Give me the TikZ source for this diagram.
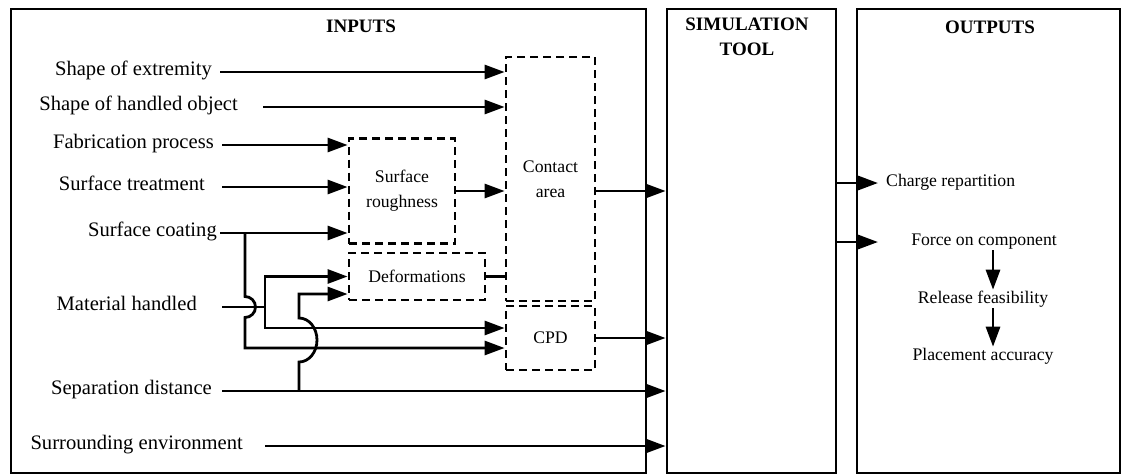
\documentclass[tikz,border=0pt]{standalone}
\usepackage{fontspec}
\setmainfont{Liberation Serif}
\usetikzlibrary{arrows.meta}

\begin{document}
\begin{tikzpicture}[x=1pt, y=-1pt,
		wire/.style={line width=2.8pt},
		feed/.style={wire, -{Triangle[length=20pt,width=14pt]}},
		frame/.style={draw, line width=2.8pt, minimum height=464pt, inner sep=0pt},
		dbox/.style={draw, line width=2.8pt, dash pattern=on 8pt off 5pt, align=center, inner sep=0pt, font=\fontsize{17.7}{25}\selectfont},
		inlabel/.style={anchor=east, inner sep=0pt, font=\fontsize{20.6}{25}\selectfont, text height=0.9em, text depth=0.12em},
		outlabel/.style={inner sep=0pt, font=\fontsize{17.7}{25}\selectfont, text height=0.9em, text depth=0.12em},
		title/.style={align=center, font=\fontsize{19}{25}\selectfont\bfseries}]
		\useasboundingbox (0,0) rectangle (1123,475);

		\node[frame, minimum width=635pt] (inputs) at (328.5,241) {};
		\node[frame, minimum width=169pt] (sim) at (751.5,241) {};
		\node[frame, minimum width=263pt] (outputs) at (988.5,241) {};
		\node[title] (intitle) at (361,26) {INPUTS};
		\node[title] (simtitle) at (747,37) {SIMULATION\\TOOL};
		\node[title] (outtitle) at (990,27) {OUTPUTS};

		\node[inlabel] (ext) at (212,72) {Shape of extremity};
		\node[inlabel] (obj) at (238,107) {Shape of handled object};
		\node[inlabel] (fab) at (214,145) {Fabrication process};
		\node[inlabel] (treat) at (205,187) {Surface treatment};
		\node[inlabel] (coat) at (217,233) {Surface coating};
		\node[inlabel] (mat) at (197,307) {Material handled};
		\node[inlabel] (sep) at (212,391) {Separation distance};
		\node[inlabel] (env) at (243,446) {Surrounding environment};

		\node[dbox, minimum width=106pt, minimum height=105pt] (rough) at (402,191) {Surface\\roughness};
		\node[dbox, minimum width=89pt, minimum height=244pt] (contact) at (550.5,179) {Contact\\area};
		\node[dbox, minimum width=136pt, minimum height=47pt] (deform) at (417,276.5) {Deformations};
		\node[dbox, minimum width=89pt, minimum height=64pt] (cpd) at (550.5,338) {CPD};

		\coordinate (cj) at (245,233);
		\coordinate (mj) at (265,307);
		\coordinate (sj) at (299,391);

		\draw[feed] ([xshift=8pt]ext.east) -- (contact.west |- ext.east);
		\draw[feed] ([xshift=25pt]obj.east) -- (contact.west |- obj.east);
		\draw[feed] ([xshift=8pt]fab.east) -- (rough.west |- fab.east);
		\draw[feed] ([xshift=17pt]treat.east) -- (rough.west |- treat.east);
		\draw[feed] ([xshift=3pt]coat.east) -- (rough.west |- coat.east);

		% branches of coating, material and distance, with hops
		\draw[feed] (cj) -- ++(0,63.5) arc[start angle=90, end angle=-90, radius=10.5pt] |- ([yshift=-10pt]cpd.west);
		\draw[wire] ([xshift=25pt]mat.east) -- (mj);
		\draw[feed] (mj) |- (deform.west);
		\draw[feed] (mj) |- ([yshift=10pt]cpd.west);
		\draw[feed] (sj) -- ++(0,-29) arc[start angle=-90, end angle=90, x radius=18pt, y radius=22pt] |- ([yshift=-17.5pt]deform.west);

		\draw[feed] (rough.east) -- (contact.west |- rough.east);
		\draw[wire] (deform.east) -- (contact.west |- deform.east);
		\draw[feed] (contact.east |- rough.east) -- (sim.west |- rough.east);
		\draw[feed] (cpd.east) -- (sim.west |- cpd.east);
		\draw[feed] ([xshift=10pt]sep.east) -- (sim.west |- sep.east);
		\draw[feed] ([xshift=22pt]env.east) -- (sim.west |- env.east);

		\node[outlabel, anchor=west] (charge) at (886,183) {Charge repartition};
		\node[outlabel] (force) at (984,242) {Force on component};
		\node[outlabel] (release) at (983,300) {Release feasibility};
		\node[outlabel] (place) at (983,357) {Placement accuracy};
		\coordinate (fin) at (878,242);

		\draw[feed] (sim.east |- charge.west) -- ([xshift=-8pt]charge.west);
		\draw[feed] (sim.east |- fin) -- (fin);
		\draw[feed, shorten <=3pt, shorten >=5pt] ([xshift=9pt]force.south) -- ([xshift=9pt]force.south |- release.north);
		\draw[feed, shorten <=3pt, shorten >=5pt] ([xshift=10pt]release.south) -- ([xshift=10pt]release.south |- place.north);

	\end{tikzpicture}
\end{document}
